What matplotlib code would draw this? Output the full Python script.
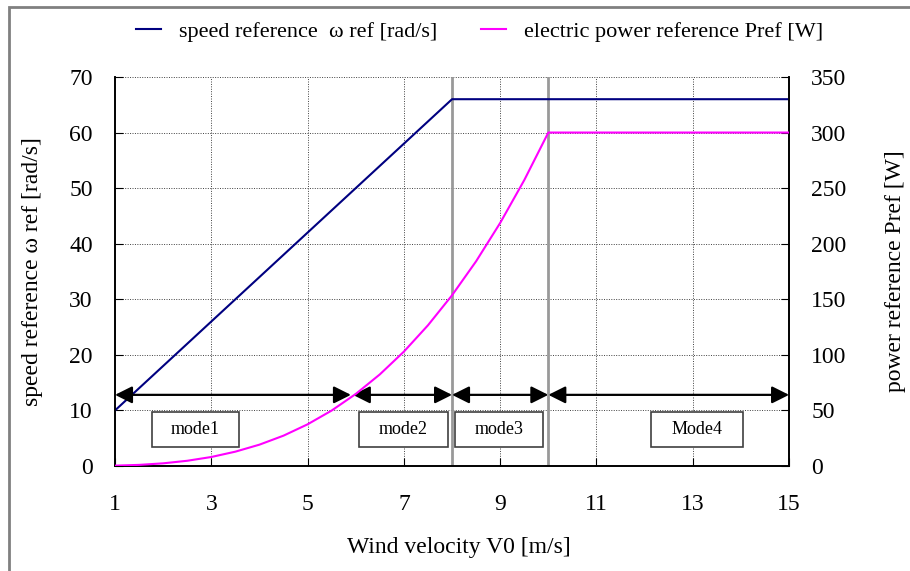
import matplotlib
matplotlib.use("Agg")
import matplotlib.pyplot as plt
from matplotlib.patches import Rectangle

plt.rcParams['font.family'] = ['Liberation Serif', 'DejaVu Serif']

# wind velocity samples and the two reference curves
wind_speed = [1, 2, 3, 4, 5, 6, 7, 8, 15]
speed_ref = [10, 18, 26, 34, 42, 50, 58, 66, 66]

wind_power = [1, 1.5, 2, 2.5, 3, 3.5, 4, 4.5, 5, 5.5, 6, 6.5, 7, 7.5, 8, 8.5, 9, 9.5, 10, 15]
power_ref = [0.3, 1.0, 2.4, 4.7, 8.1, 12.9, 19.2, 27.3, 37.5, 49.9, 64.8, 82.4,
             102.9, 126.6, 153.6, 184.2, 218.7, 257.2, 300, 300]

mode_bounds = [1, 5.9, 8, 10, 15]
mode_names = ["mode1", "mode2", "mode3", "Mode4"]
mode_box_x = [(1.77, 3.58), (6.07, 7.92), (8.06, 9.89), (12.13, 14.05)]

x_ticks = [1, 3, 5, 7, 9, 11, 13, 15]
left_ticks = [0, 10, 20, 30, 40, 50, 60, 70]
right_ticks = [0, 50, 100, 150, 200, 250, 300, 350]

fs = 17
navy = '#000080'
magenta = '#FF00FF'

fig = plt.figure(figsize=(9.1, 5.71), dpi=100)
ax = fig.add_axes([0.1264, 0.1839, 0.7407, 0.6813])
ax2 = ax.twinx()

# figure frame (only left/top edges visible in the picture)
fig.patches.append(Rectangle((0.0095, -0.2), 1.2, 1.188, transform=fig.transFigure,
                             fill=False, edgecolor='#808080', lw=2))

ax.set_xlim(1, 15)
ax.set_ylim(0, 70)
ax2.set_ylim(0, 350)

# grid
for xv in x_ticks[1:-1]:
    ax.axvline(xv, color='#404040', lw=0.7, ls=(0, (1, 1.5)), zorder=0)
for yv in left_ticks[1:]:
    ax.axhline(yv, color='#404040', lw=0.7, ls=(0, (1, 1.5)), zorder=0)

# mode separators
for xv in [8, 10]:
    ax.axvline(xv, color='#999999', lw=2, zorder=1)

l1, = ax.plot(wind_speed, speed_ref, color=navy, lw=1.5, zorder=3)
l2, = ax2.plot(wind_power, power_ref, color=magenta, lw=1.5, zorder=3)

# mode arrows
arrow_y = 12.8
for i in range(len(mode_names)):
    x0 = mode_bounds[i] + (0.04 if i == 1 else 0)
    x1 = mode_bounds[i + 1]
    ax.annotate('', xy=(x1, arrow_y), xytext=(x0, arrow_y),
                arrowprops=dict(arrowstyle='<|-|>', color='black', lw=1.6,
                                mutation_scale=26, shrinkA=0, shrinkB=0),
                zorder=4)

# mode boxes
for name, (bx0, bx1) in zip(mode_names, mode_box_x):
    ax.add_patch(Rectangle((bx0, 3.5), bx1 - bx0, 6.3, facecolor='white',
                           edgecolor='#404040', lw=1.2, zorder=5))
    ax.text((bx0 + bx1) / 2, 6.65, name, ha='center', va='center',
            fontsize=13, zorder=6)

ax.set_xticks(x_ticks)
ax.set_yticks(left_ticks)
ax2.set_yticks(right_ticks)
ax.tick_params(axis='x', direction='in', length=6, pad=20, labelsize=fs)
ax.tick_params(axis='y', direction='in', length=6, pad=16, labelsize=fs)
ax2.tick_params(axis='y', direction='in', length=6, pad=16, labelsize=fs)

for a in (ax, ax2):
    a.spines['top'].set_visible(False)
    for s in ('left', 'right', 'bottom'):
        a.spines[s].set_linewidth(1.2)

ax.set_xlabel('Wind velocity V0 [m/s]', fontsize=fs)
ax.xaxis.set_label_coords(0.51, -0.183)
ax.set_ylabel('speed reference \u03c9 ref [rad/s]', fontsize=fs)
ax.yaxis.set_label_coords(-0.107, 0.5)
ax2.set_ylabel('power reference Pref [W]', fontsize=fs)
ax2.yaxis.set_label_coords(1.142, 0.5)

fig.legend([l1, l2], ['speed reference  \u03c9 ref [rad/s]',
                      'electric power reference Pref [W]'],
           loc='center', bbox_to_anchor=(0.527, 0.944), ncol=2, frameon=False,
           fontsize=16, handlelength=1.1, handletextpad=0.8, columnspacing=2.0)

fig.savefig('out.png', dpi=100)
